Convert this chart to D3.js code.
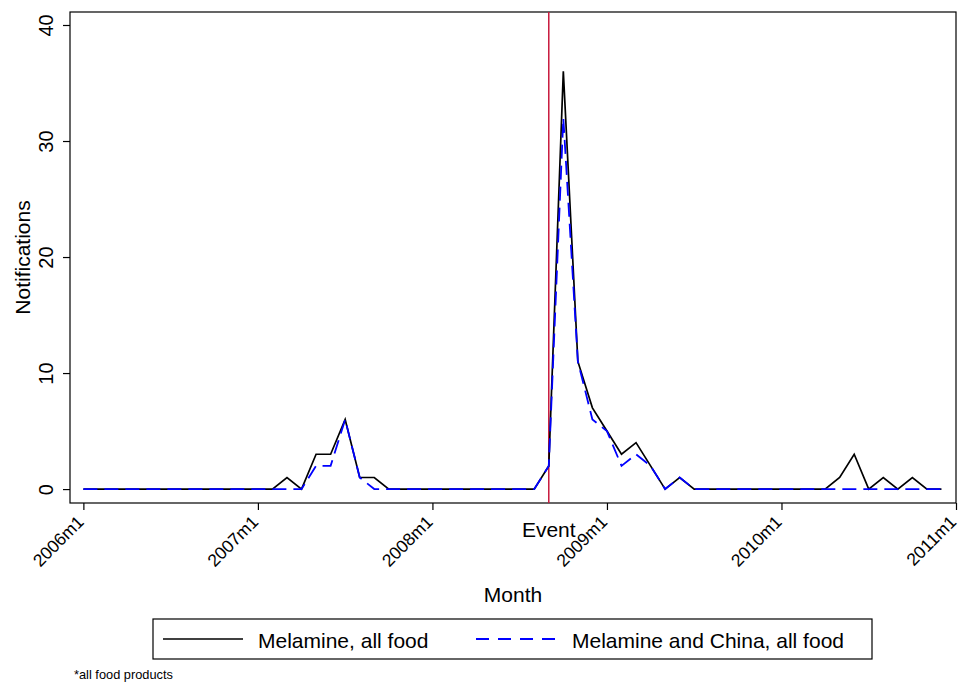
<!DOCTYPE html>
<meta charset="utf-8">
<title>Melamine notifications</title>
<script src="https://d3js.org/d3.v7.min.js"></script>
<style>
	body { margin: 0; background: #fff; }
	svg { font-family: "Liberation Sans", Arial, Helvetica, sans-serif; }
	.axis path, .axis line { stroke: #000; stroke-width: 1.2; }
</style>
<body>
<svg id="chart" width="962" height="685"></svg>
<script>

// monthly notifications, 2006m1 .. 2010m12
var melamineAll = [
	0,0,0,0,0,0,0,0,0,0,0,0,       // 2006
	0,0,1,0,3,3,6,1,1,0,0,0,       // 2007
	0,0,0,0,0,0,0,0,2,36,11,7,     // 2008
	5,3,4,2,0,1,0,0,0,0,0,0,       // 2009
	0,0,0,0,1,3,0,1,0,1,0,0        // 2010
];
var melamineChina = [
	0,0,0,0,0,0,0,0,0,0,0,0,
	0,0,0,0,2,2,6,1,0,0,0,0,
	0,0,0,0,0,0,0,0,2,32,11,6,
	5,2,3,2,0,1,0,0,0,0,0,0,
	0,0,0,0,0,0,0,0,0,0,0,0
];
var xTicks = [0, 12, 24, 36, 48, 60];
var xTickLabels = ["2006m1", "2007m1", "2008m1", "2009m1", "2010m1", "2011m1"];
var yTicks = [0, 10, 20, 30, 40];
var eventMonth = 32;   // 2008m9
var seriesNames = ["Melamine, all food", "Melamine and China, all food"];

var svg = d3.select("#chart");

var x = d3.scaleLinear().domain([-0.92, 60]).range([70, 956]);
var y = d3.scaleLinear().domain([-1.2, 41.12]).range([503, 12]);

// plot region outline
svg.append("rect")
	.attr("x", 70).attr("y", 12)
	.attr("width", 886).attr("height", 491)
	.attr("fill", "none").attr("stroke", "#000").attr("stroke-width", 1.2);

// y axis
var yAxis = svg.append("g")
	.attr("class", "axis")
	.attr("transform", "translate(70,0)")
	.call(d3.axisLeft(y).tickValues(yTicks).tickSize(7).tickSizeOuter(0));
yAxis.select(".domain").remove();
yAxis.selectAll("text")
	.attr("x", null).attr("dy", null)
	.attr("transform", "translate(-17,0) rotate(-90)")
	.attr("text-anchor", "middle")
	.attr("font-size", 20)
	.attr("font-family", null)
	.attr("fill", "#000");

// x axis
var xAxis = svg.append("g")
	.attr("class", "axis")
	.attr("transform", "translate(0,503)")
	.call(d3.axisBottom(x).tickValues(xTicks).tickSize(7).tickSizeOuter(0)
		.tickFormat(function(d, i) { return xTickLabels[i]; }));
xAxis.select(".domain").remove();
xAxis.selectAll("text")
	.attr("y", null).attr("dy", null)
	.attr("transform", "translate(1,20) rotate(-45)")
	.attr("text-anchor", "end")
	.attr("font-size", 17.5)
	.attr("font-family", null)
	.attr("fill", "#000");

// event line
svg.append("line")
	.attr("x1", x(eventMonth)).attr("x2", x(eventMonth))
	.attr("y1", 12).attr("y2", 503)
	.attr("stroke", "#c8183c").attr("stroke-width", 1.5);

svg.append("text")
	.attr("x", x(eventMonth)).attr("y", 537)
	.attr("text-anchor", "middle")
	.attr("font-size", 21)
	.text("Event");

// series
var line = d3.line()
	.x(function(d, i) { return x(i); })
	.y(function(d) { return y(d); });

svg.append("path")
	.datum(melamineAll)
	.attr("d", line)
	.attr("fill", "none")
	.attr("stroke", "#000")
	.attr("stroke-width", 1.7);

svg.append("path")
	.datum(melamineChina)
	.attr("d", line)
	.attr("fill", "none")
	.attr("stroke", "#0000ff")
	.attr("stroke-width", 1.8)
	.attr("stroke-dasharray", "14,7");

// axis titles
svg.append("text")
	.attr("x", 513).attr("y", 602)
	.attr("text-anchor", "middle")
	.attr("font-size", 21)
	.text("Month");

svg.append("text")
	.attr("transform", "translate(30,257.5) rotate(-90)")
	.attr("text-anchor", "middle")
	.attr("font-size", 21)
	.text("Notifications");

// legend
var legend = svg.append("g");
legend.append("rect")
	.attr("x", 153).attr("y", 619)
	.attr("width", 719).attr("height", 40)
	.attr("fill", "none").attr("stroke", "#000").attr("stroke-width", 1.2);

legend.append("line")
	.attr("x1", 163).attr("x2", 243).attr("y1", 639).attr("y2", 639)
	.attr("stroke", "#000").attr("stroke-width", 1.7);
legend.append("text")
	.attr("x", 258).attr("y", 648)
	.attr("font-size", 21)
	.text(seriesNames[0]);

legend.append("line")
	.attr("x1", 476).attr("x2", 556).attr("y1", 639).attr("y2", 639)
	.attr("stroke", "#0000ff").attr("stroke-width", 1.8)
	.attr("stroke-dasharray", "13,9");
legend.append("text")
	.attr("x", 572).attr("y", 648)
	.attr("font-size", 21)
	.text(seriesNames[1]);

// note
svg.append("text")
	.attr("x", 74).attr("y", 679)
	.attr("font-size", 12.8)
	.text("*all food products");

</script>
